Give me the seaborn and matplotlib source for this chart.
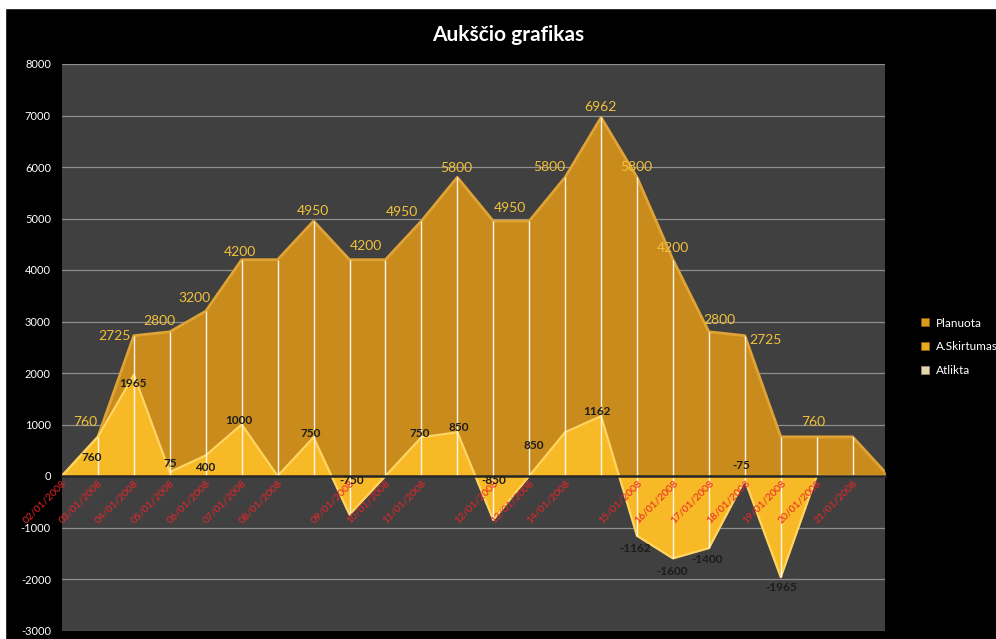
import numpy as np
import pandas as pd
import seaborn as sns
import matplotlib.pyplot as plt
from matplotlib.lines import Line2D
from matplotlib.patches import Rectangle

# data
planuota = [0, 760, 2725, 2800, 3200, 4200, 4200, 4950, 4200, 4200, 4950, 5800,
            4950, 4950, 5800, 6962, 5800, 4200, 2800, 2725, 760, 760, 760, 0]
skirtumas = [0, 760, 1965, 75, 400, 1000, 0, 750, -750, 0, 750, 850,
             -850, 0, 850, 1162, -1162, -1600, -1400, -75, -1965, 0, 0, 0]
date_idx = [0, 1, 2, 3, 4, 5, 6, 8, 9, 10, 12, 13, 14, 16, 17, 18, 19, 20, 21, 22]
dates = ['02/01/2008', '03/01/2008', '04/01/2008', '05/01/2008', '06/01/2008',
         '07/01/2008', '08/01/2008', '09/01/2008', '10/01/2008', '11/01/2008',
         '12/01/2008', '13/01/2008', '14/01/2008', '15/01/2008', '16/01/2008',
         '17/01/2008', '18/01/2008', '19/01/2008', '20/01/2008', '21/01/2008']
series_names = ['Planuota', 'A.Skirtumas', 'Atlikta']

# which points carry a value label (and pixel nudges)
pl_lab = [1, 2, 3, 4, 5, 7, 8, 10, 11, 12, 14, 15, 16, 17, 18, 19, 21]
pl_dx = [-13, -19, -10, -11, -2, -1, 16, -19, -1, 17, -16, -1, -1, 0, 10, 21, -3]
pl_dy = [15, 0, 11, 13, 8, 10, 14, 9, 9, 13, 10, 10, 10, 12, 12, -4, 15]
sk_lab = [1, 2, 3, 4, 5, 7, 8, 10, 11, 12, 14, 15, 16, 17, 18, 19, 20]
sk_dx = [-6, -1, 0, -1, -3, -3, 2, -2, 1, 0, -31, -4, -2, -1, -2, -4, 0]
sk_dy = [-21, -9, 9, -12, 4, 4, 34, 4, 5, 39, -13, 5, -13, -13, -11, 14, -10]

df = pd.DataFrame({'k': np.arange(len(planuota)), 'planuota': planuota,
                   'skirtumas': skirtumas})

sns.set_theme(style='dark')
plt.rcParams['font.family'] = ['Lato', 'DejaVu Sans']

fig = plt.figure(figsize=(9.96, 6.39), dpi=100)
fig.patch.set_facecolor('black')
fig.add_artist(Rectangle((0, 1 - 8 / 639), 1, 8 / 639, transform=fig.transFigure,
                         color='white', zorder=-5))
fig.add_artist(Rectangle((0, 0), 5 / 996, 1, transform=fig.transFigure,
                         color='white', zorder=-5))

ax = fig.add_axes([62 / 996, 1 - 630.5 / 639, 823 / 996, 566.5 / 639])
ax.set_facecolor('#404040')
ax.set_axisbelow(False)  # date labels sit on top of the areas

pl_col, pl_edge = '#c98b1c', '#dfa336'
sk_col, sk_edge = '#f8b926', '#ffd562'

ax.fill_between(df.k, 0, df.planuota, color=pl_col, lw=0, zorder=1)
sns.lineplot(data=df, x='k', y='planuota', color=pl_edge, lw=2.0, ax=ax, zorder=1.1)
ax.fill_between(df.k, 0, df.skirtumas, color=sk_col, lw=0, zorder=1.2)
sns.lineplot(data=df, x='k', y='skirtumas', color=sk_edge, lw=1.6, ax=ax, zorder=1.3)

# drop lines
lo = np.minimum(df.skirtumas, 0)
hi = np.maximum(df.planuota, df.skirtumas)
ax.vlines(df.k, lo, hi, color='white', lw=1.0, alpha=0.9, zorder=1.5)

# category axis crosses at 0 (set before the tick labels: it resets them)
for s in ['top', 'left', 'right']:
    ax.spines[s].set_visible(False)
ax.spines['bottom'].set_position(('data', 0))
ax.spines['bottom'].set_color('#262626')
ax.spines['bottom'].set_linewidth(1.8)

ax.set_xlim(0, 22.9)
ax.set_ylim(-3000, 8000)
yt = np.arange(-3000, 8001, 1000)
ax.set_yticks(yt)
ax.set_yticklabels([str(v) for v in yt])
for v in yt:
    ax.axhline(v, color='#8e8e8e', lw=0.9, zorder=0.5)
ax.grid(False)

ax.set_xticks(date_idx)
ax.set_xticklabels(dates, rotation=45, ha='right', va='top', rotation_mode='anchor',
                   color='#e8252a', fontsize=7.5)
ax.tick_params(axis='x', length=0, pad=2)
ax.tick_params(axis='y', length=0, pad=8, labelcolor='white', labelsize=8)
ax.set_xlabel('')
ax.set_ylabel('')

for i, dx, dy in zip(pl_lab, pl_dx, pl_dy):
    ax.annotate(str(planuota[i]), (i, planuota[i]), xytext=(dx, dy),
                textcoords='offset pixels', ha='center', va='center',
                color='#f2c23a', fontsize=10, zorder=5)
for i, dx, dy in zip(sk_lab, sk_dx, sk_dy):
    ax.annotate(str(skirtumas[i]), (i, skirtumas[i]), xytext=(dx, dy),
                textcoords='offset pixels', ha='center', va='center',
                color='#1c1c1c', fontsize=8.5, fontweight='bold', zorder=5)

fig.text(508 / 996, 1 - 35 / 639, 'Aukščio grafikas', color='white', fontsize=15,
         fontweight='bold', ha='center', va='center')

handles = [Line2D([], [], ls='', marker='s', markersize=6, markerfacecolor=c,
                  markeredgecolor=e, markeredgewidth=0.6)
           for c, e in [('#d99a1e', '#8a5a10'), ('#eaa91c', '#8a6010'),
                        ('#e6d6b0', '#9a8a70')]]
fig.legend(handles, series_names, loc='center left',
           bbox_to_anchor=(910 / 996, 1 - 347 / 639), frameon=False,
           labelcolor='white', fontsize=8.5, handlelength=0.8,
           handletextpad=0.5, labelspacing=1.1)

fig.savefig('out.png', dpi=100, facecolor=fig.get_facecolor())
